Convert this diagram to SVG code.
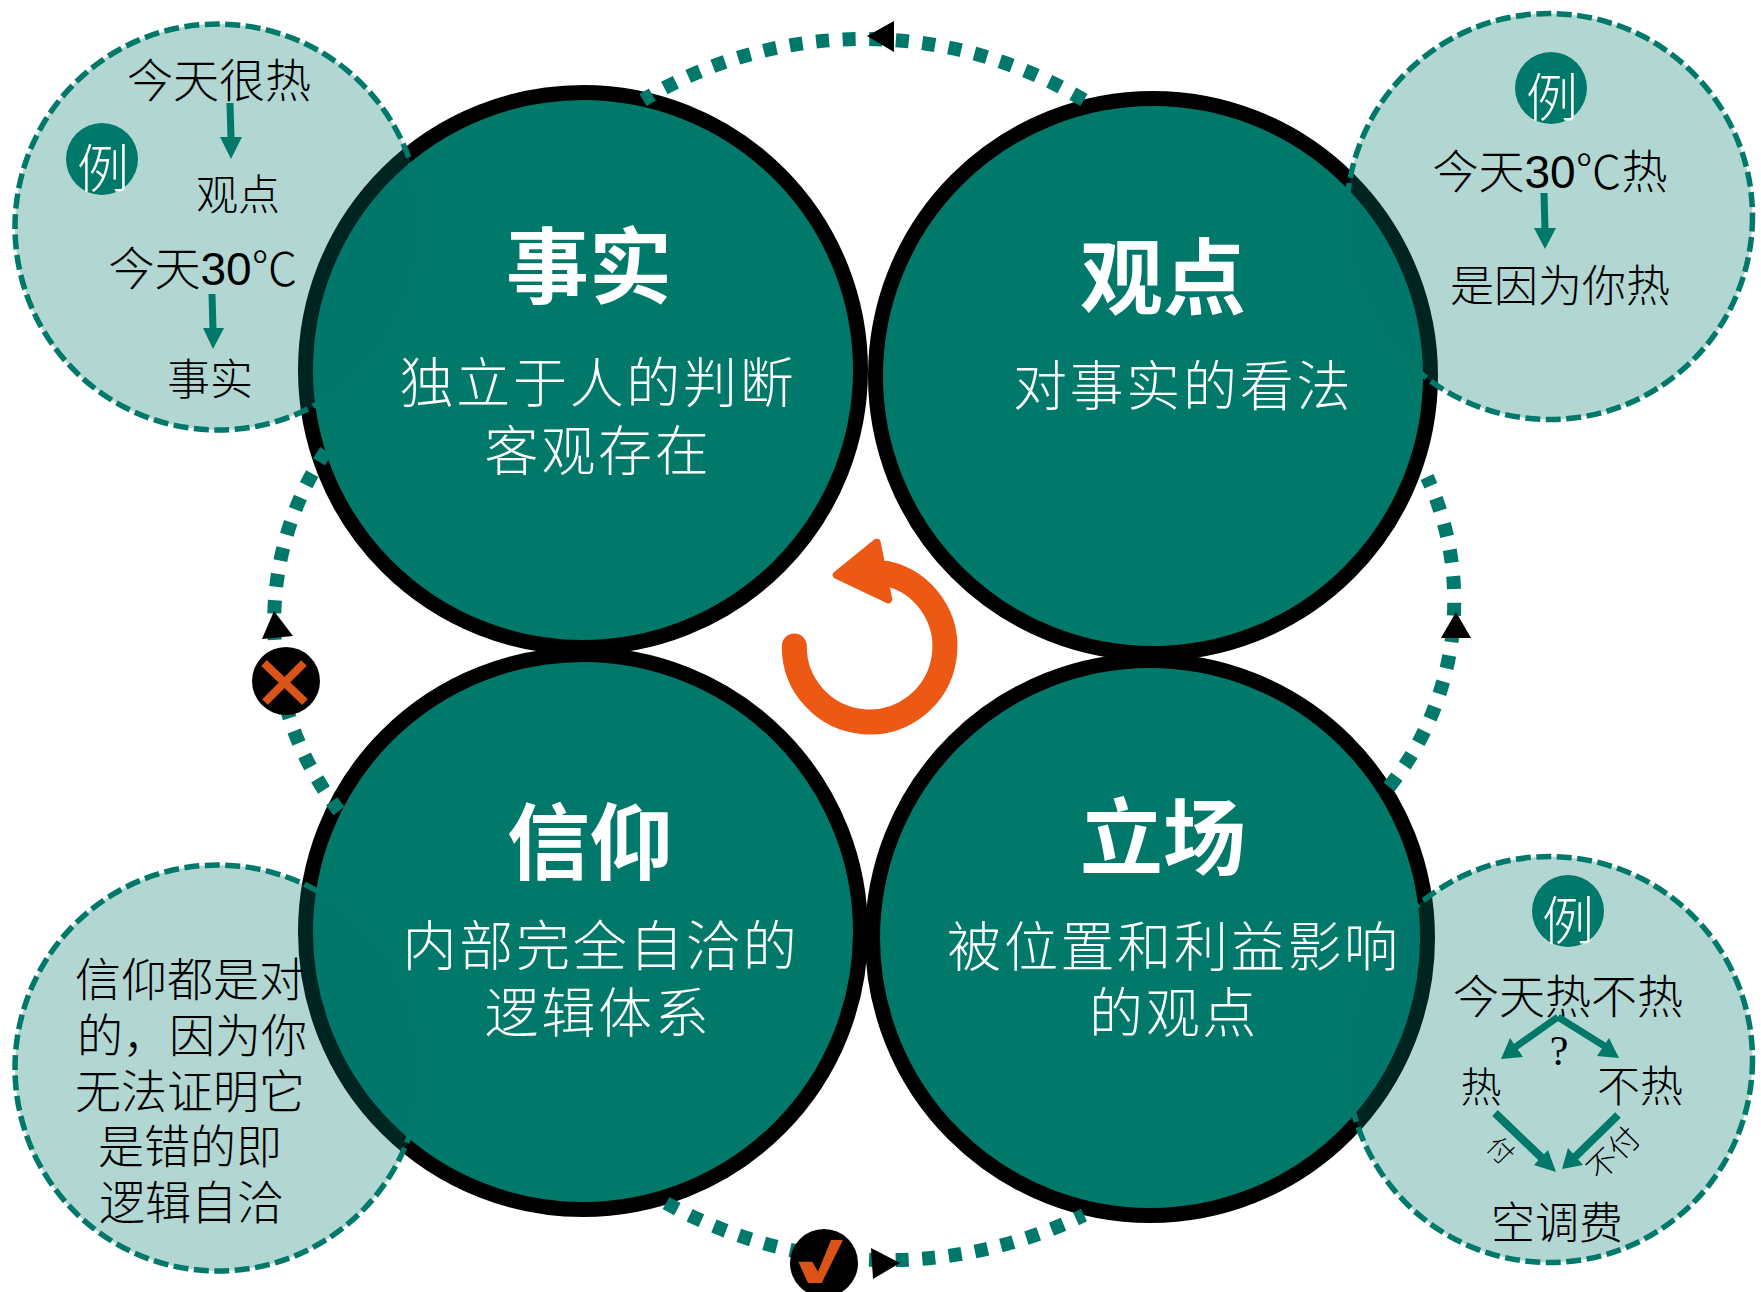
<svg xmlns="http://www.w3.org/2000/svg" width="1761" height="1292" viewBox="0 0 1761 1292">
<style>
text{font-family:"Liberation Sans","Noto Sans CJK SC",sans-serif;text-anchor:middle;font-weight:300}
.ring{fill:#00786a;stroke:#000;stroke-width:15}
.bubble{fill:rgba(0,120,106,.3);stroke:#00786a;stroke-width:5.5;stroke-dasharray:15 5.5}
.title{font-size:83px;fill:#fff;font-weight:700}
.body{font-size:54px;fill:#fff;letter-spacing:2.7px}
.t{font-size:46px;fill:#000}
.li{fill:#00786a}
.lix{font-size:52px;fill:#fff}
.ln{stroke:#00786a;stroke-width:7;fill:none}
.dot{fill:none;stroke:#00786a;stroke-width:14;stroke-dasharray:13 13.6}
.cj{font-family:"Noto Sans CJK SC",sans-serif}
</style>
<rect width="1761" height="1292" fill="#fff"/>
<g id="node-fact">
<circle class="ring" cx="583" cy="370" r="277.5"/>
<g id="example-fact">
<circle class="bubble" cx="218" cy="227" r="203"/>
<circle class="li" cx="102" cy="159" r="36"/>
<text class="lix" x="103" y="188">例</text>
<text class="t" x="219" y="97">今天很热</text>
<path class="ln" d="M230 103L231 138"/><path class="li" d="M220 137H242L231 159Z"/>
<text class="t" x="238" y="210" style="font-size:42px">观点</text>
<text class="t" x="203" y="285">今天30<tspan class="cj">℃</tspan></text>
<path class="ln" d="M212 294L213 330"/><path class="li" d="M203 328H224L213 349Z"/>
<text class="t" x="210" y="395" style="font-size:43px">事实</text>
</g>
<text class="title" x="589" y="297">事实</text>
<text class="body" x="598" y="403">独立于人的判断</text>
<text class="body" x="598" y="471">客观存在</text>
</g>
<g id="node-opinion">
<circle class="ring" cx="1153" cy="376" r="277.5"/>
<g id="example-opinion">
<circle class="bubble" cx="1549.5" cy="216.5" r="203"/>
<circle class="li" cx="1551" cy="88" r="36"/>
<text class="lix" x="1552" y="117">例</text>
<text class="t" x="1550" y="188">今天30<tspan class="cj">℃</tspan>热</text>
<path class="ln" d="M1544 193L1545 230"/><path class="li" d="M1534 228H1556L1545 249Z"/>
<text class="t" x="1560" y="302" style="font-size:44px">是因为你热</text>
</g>
<text class="title" x="1163" y="308">观点</text>
<text class="body" x="1183" y="406">对事实的看法</text>
</g>
<g id="node-belief">
<circle class="ring" cx="583" cy="932" r="277.5"/>
<g id="example-belief">
<circle class="bubble" cx="218" cy="1068" r="203"/>
<text class="t" x="190" y="996">信仰都是对</text>
<text class="t" x="192" y="1052">的，因为你</text>
<text class="t" x="190" y="1108">无法证明它</text>
<text class="t" x="190" y="1163">是错的即</text>
<text class="t" x="191" y="1219">逻辑自洽</text>
</g>
<text class="title" x="590" y="873">信仰</text>
<text class="body" x="601" y="966">内部完全自洽的</text>
<text class="body" x="598" y="1033">逻辑体系</text>
</g>
<g id="node-stance">
<circle class="ring" cx="1150" cy="938" r="277.5"/>
<g id="example-stance">
<circle class="bubble" cx="1549.5" cy="1059.5" r="203"/>
<circle class="li" cx="1568" cy="911" r="36"/>
<text class="lix" x="1568" y="940">例</text>
<text class="t" x="1568" y="1013">今天热不热</text>
<text x="1559" y="1065" style="font-family:'Liberation Serif',serif;font-size:42px">?</text>
<text class="t" x="1481" y="1102" style="font-size:41px">热</text>
<text class="t" x="1640" y="1102" style="font-size:43px">不热</text>
<path class="ln" d="M1558 1017L1514 1048M1558 1017L1606 1047"/>
<path class="li" d="M1510 1038L1523 1057L1501 1059ZM1609 1038L1597 1056L1619 1058Z"/>
<path class="ln" style="stroke-width:8" d="M1495 1113L1543 1159M1618 1115L1574 1158"/>
<path class="li" d="M1548 1150L1534 1165L1556 1172ZM1568 1148L1583 1165L1562 1169Z"/>
<text class="t" transform="translate(1494 1157) rotate(45)" style="font-size:26px" x="0" y="0">付</text>
<text class="t" transform="translate(1621 1161) rotate(-45)" style="font-size:30px" x="0" y="0">不付</text>
<text class="t" x="1557" y="1239" style="font-size:44px">空调费</text>
</g>
<text class="title" x="1163" y="868">立场</text>
<text class="body" x="1174" y="967">被位置和利益影响</text>
<text class="body" x="1174" y="1033">的观点</text>
</g>
<g id="connectors">
<path class="dot" d="M1084 100A429 429 0 0 0 643 100"/>
<path class="dot" d="M326 451A308 308 0 0 0 339 811"/>
<path class="dot" d="M666 1203A454 454 0 0 0 1084 1215"/>
<path class="dot" d="M1389 787A297 297 0 0 0 1427 477"/>
<path d="M867 36L894 21V52Z"/>
<path d="M274 611L262 639L293 636Z"/>
<path d="M900 1263L871 1248L873 1279Z"/>
<path d="M1456 612L1441 638H1471Z"/>
</g>
<g id="icon-cross">
<circle cx="286" cy="681" r="34"/>
<path d="M264 663L305 702M304 663L265 702" stroke="#db5316" stroke-width="8" fill="none"/>
</g>
<g id="icon-check">
<circle cx="824" cy="1263" r="34"/>
<path d="M798.3 1261.7H812.3L818 1271.7L831 1240H843L821.7 1283H808Z" fill="#db5316"/>
</g>
<g id="cycle-arrow">
<path d="M794.3 646A75.3 75.3 0 1 0 886.7 573.3" fill="none" stroke="#ec5915" stroke-width="25" stroke-linecap="round"/>
<path d="M876.7 542.7L836.7 575L888.3 599.3Z" fill="#ec5915" stroke="#ec5915" stroke-width="8" stroke-linejoin="round"/>
</g>
</svg>
